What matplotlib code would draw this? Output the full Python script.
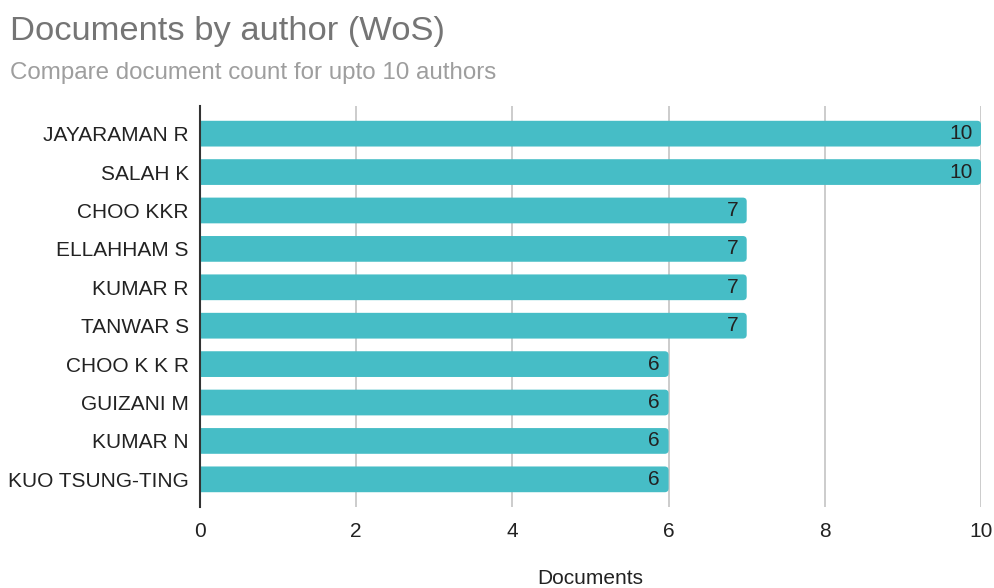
import matplotlib
matplotlib.use("Agg")
import matplotlib.pyplot as plt
import matplotlib.patches as patches

plt.rcParams['font.family'] = ['Liberation Sans', 'DejaVu Sans']

# document counts per author (top to bottom)
authors = ["JAYARAMAN R", "SALAH K", "CHOO KKR", "ELLAHHAM S", "KUMAR R",
           "TANWAR S", "CHOO K K R", "GUIZANI M", "KUMAR N", "KUO TSUNG-TING"]
documents = [10, 10, 7, 7, 7, 7, 6, 6, 6, 6]
x_ticks = [0, 2, 4, 6, 8, 10]

BAR_COLOR = "#46BDC6"
TEXT_COLOR = "#222222"
W, H = 995, 588

fig = plt.figure(figsize=(W / 100, H / 100), dpi=100, facecolor="white")
ax = fig.add_axes([200 / W, (H - 507) / H, (981 - 200) / W, (507 - 106) / H])

n = len(authors)
ypos = list(range(n))
bar_h = 0.67
radius = 0.05  # x units, roughly 4px
overhang = 0.15  # left end hidden past x=0 so only the right end shows rounding

for y, v in zip(ypos, documents):
    box = patches.FancyBboxPatch((-overhang, y - bar_h / 2), v + overhang, bar_h,
                                 boxstyle=f"round,pad=0,rounding_size={radius}",
                                 mutation_aspect=2.0, facecolor=BAR_COLOR,
                                 edgecolor="none", zorder=3)
    ax.add_patch(box)
    ax.text(v - 0.11, y, str(v), ha="right", va="center", fontsize=15,
            color=TEXT_COLOR, zorder=4)

ax.set_xlim(0, 10)
ax.set_ylim(n - 1 + 0.72, -0.72)
ax.set_yticks(ypos)
ax.set_yticklabels(authors)
ax.set_xticks(x_ticks)
ax.tick_params(axis="both", length=0, labelsize=15, colors=TEXT_COLOR)
ax.tick_params(axis="x", pad=11)
ax.tick_params(axis="y", pad=8)

ax.grid(axis="x", color="#cccccc", linewidth=1.4, zorder=0)
ax.set_axisbelow(True)
for side in ["top", "right", "bottom"]:
    ax.spines[side].set_visible(False)
ax.spines["left"].set_color("#333333")
ax.spines["left"].set_linewidth(1.5)
ax.spines["left"].set_zorder(5)

fig.text(590.5 / W, 1 - 584 / H, "Documents", ha="center", va="baseline",
         fontsize=15, color=TEXT_COLOR)

fig.text(10 / W, 1 - 40 / H, "Documents by author (WoS)", ha="left",
         va="baseline", fontsize=24.8, color="#757575")
fig.text(10 / W, 1 - 79.5 / H, "Compare document count for upto 10 authors",
         ha="left", va="baseline", fontsize=17.4, color="#9e9e9e")

fig.savefig("out.png", dpi=100, facecolor="white")
